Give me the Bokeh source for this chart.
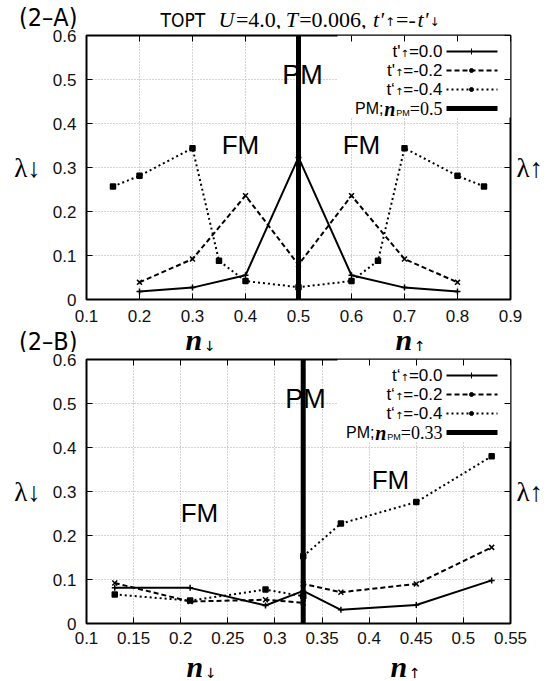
from bokeh.plotting import figure
from bokeh.layouts import column
from bokeh.models import Span, Label, BoxAnnotation, FixedTicker, Range1d, LinearAxis
from bokeh.embed import file_html
from bokeh.resources import INLINE

# ---------------- data ----------------
# panel (2-A): TOPT U=4.0, T=0.006
n_a_t00 = [0.2, 0.3, 0.4, 0.5, 0.6, 0.7, 0.8]
lam_a_t00 = [0.018, 0.027, 0.055, 0.323, 0.055, 0.027, 0.018]
n_a_t02 = [0.2, 0.3, 0.4, 0.5, 0.6, 0.7, 0.8]
lam_a_t02 = [0.039, 0.092, 0.236, 0.079, 0.236, 0.092, 0.039]
n_a_t04 = [0.15, 0.2, 0.3, 0.35, 0.4, 0.5, 0.6, 0.65, 0.7, 0.8, 0.85]
lam_a_t04 = [0.257, 0.281, 0.344, 0.088, 0.042, 0.028, 0.042, 0.088, 0.344, 0.281, 0.257]
n_pm_a = 0.5

# panel (2-B)
n_b_t00 = [0.13, 0.21, 0.29, 0.33, 0.37, 0.45, 0.53]
lam_b_t00 = [0.081, 0.081, 0.041, 0.074, 0.031, 0.042, 0.098]
n_b_t02 = [0.13, 0.21, 0.29, 0.33, 0.33, 0.37, 0.45, 0.53]
lam_b_t02 = [0.092, 0.050, 0.054, 0.047, 0.090, 0.071, 0.090, 0.173]
n_b_t04 = [0.13, 0.21, 0.29, 0.33, 0.33, 0.37, 0.45, 0.53]
lam_b_t04 = [0.066, 0.052, 0.077, 0.062, 0.153, 0.227, 0.276, 0.380]
n_pm_b = 0.33

x_ticks_a = [0.1, 0.2, 0.3, 0.4, 0.5, 0.6, 0.7, 0.8, 0.9]
x_labels_a = ["0.1", "0.2", "0.3", "0.4", "0.5", "0.6", "0.7", "0.8", "0.9"]
x_ticks_b = [0.1, 0.15, 0.2, 0.25, 0.3, 0.35, 0.4, 0.45, 0.5, 0.55]
x_labels_b = ["0.1", "0.15", "0.2", "0.25", "0.3", "0.35", "0.4", "0.45", "0.5", "0.55"]
y_ticks = [0.0, 0.1, 0.2, 0.3, 0.4, 0.5, 0.6]
y_labels = ["0", "0.1", "0.2", "0.3", "0.4", "0.5", "0.6"]

legend_a = ["t'", "t'", "t\u2018"]
legend_b = ["t\u2018", "t\u2018", "t\u2018"]
legend_vals = ["=0.0", "=-0.2", "=-0.4"]
pm_text_a = "=0.5"
pm_text_b = "=0.33"

# ---------------- layout constants ----------------
SANS = "Liberation Sans"
SERIF = "Liberation Serif"
COND = "DejaVu Sans Condensed"
ARROW = "DejaVu Sans"

W = 554
BL, BR = 86, 44
FL, FR = BL, W - BR          # frame left / right (page px)
H_HEAD = 29
H_A, BT_A, BB_A = 300, 6, 30
H_MID = 23
H_B, BT_B, BB_B = 300, 7, 29
H_FOOT = 29
TOP_A = H_HEAD
TOP_MID = TOP_A + H_A
TOP_B = TOP_MID + H_MID
TOP_FOOT = TOP_B + H_B


def blank_axis(ticks, **kw):
    return LinearAxis(ticker=FixedTicker(ticks=ticks),
                      major_label_overrides={t: "" for t in ticks},
                      major_label_text_font_size="1px", major_label_standoff=0,
                      axis_line_color=None, major_tick_in=6, major_tick_out=0,
                      major_tick_line_color="black", minor_tick_in=0, minor_tick_out=0, **kw)


def make_panel(x0, x1, height, bt, bb, page_top, xticks, xlabels, standoff_x):
    p = figure(width=W, height=height, x_range=Range1d(x0, x1), y_range=Range1d(0, 0.6),
               output_backend="svg", toolbar_location=None,
               min_border_left=BL, min_border_right=BR,
               min_border_top=bt, min_border_bottom=bb)
    p.background_fill_color = "white"
    p.border_fill_color = "white"
    p.outline_line_color = "black"
    p.outline_line_width = 2
    xa = p.below[0]
    ya = p.left[0]
    xa.ticker = FixedTicker(ticks=xticks)
    xa.major_label_overrides = {t: s for t, s in zip(xticks, xlabels)}
    ya.ticker = FixedTicker(ticks=y_ticks)
    ya.major_label_overrides = {t: s for t, s in zip(y_ticks, y_labels)}
    for ax in (xa, ya):
        ax.axis_line_color = None
        ax.major_tick_in = 6
        ax.major_tick_out = 0
        ax.minor_tick_in = 0
        ax.minor_tick_out = 0
        ax.major_tick_line_color = "black"
        ax.major_label_text_font = SANS
        ax.major_label_text_font_size = "17px"
        ax.major_label_text_color = "#111111"
    xa.major_label_standoff = standoff_x
    ya.major_label_standoff = 10
    ya.axis_label = "\u03bb\u2193"
    ya.axis_label_orientation = "horizontal"
    ya.axis_label_standoff = 9
    ya.axis_label_text_font = SERIF
    ya.axis_label_text_font_size = "27px"
    ya.axis_label_text_font_style = "normal"
    ya.axis_label_text_color = "black"
    ra = blank_axis(y_ticks, axis_label="\u03bb\u2191",
                    axis_label_orientation="horizontal", axis_label_standoff=6,
                    axis_label_text_font=SERIF, axis_label_text_font_size="27px",
                    axis_label_text_font_style="normal", axis_label_text_color="black")
    p.add_layout(ra, "right")
    p.add_layout(blank_axis(xticks), "above")
    p.grid.grid_line_color = "#a8a8a8"
    p.grid.grid_line_dash = "1 2"
    p.grid.grid_line_width = 1
    p.grid.level = "image"
    T = page_top + bt
    B = page_top + height - bb

    def fx(px):
        return x0 + (px - FL) / (FR - FL) * (x1 - x0)

    def fy(py):
        return (B - py) / (B - T) * 0.6
    return p, fx, fy, T, B


def lab(p, fx, fy, px, py, text, font, size, style="normal", align="left"):
    p.add_layout(Label(x=fx(px), y=fy(py), text=text, text_align=align, text_baseline="middle",
                       text_font=font, text_font_size=f"{size}px", text_font_style=style,
                       text_color="black"))


def run_left(p, fx, fy, left, cy, pieces, scale=1.0):
    x = left
    for text, font, size, style, wem, dy in pieces:
        lab(p, fx, fy, x, cy + dy, text, font, size, style, "left")
        x += size * wem * scale


def run_right(p, fx, fy, right, cy, pieces):
    x = right
    for text, font, size, style, wem, dy in reversed(pieces):
        lab(p, fx, fy, x, cy + dy, text, font, size, style, "right")
        x -= size * wem


def series(p, xs, ys, dash, marker, msize):
    p.line(xs, ys, line_color="black", line_width=2, line_dash=dash)
    p.scatter(xs, ys, marker=marker, size=msize, line_color="black", fill_color="black",
              line_width=1.5)


def legend(p, fx, fy, T, tnames, pm_val):
    p.add_layout(BoxAnnotation(left=fx(337), right=fx(FR), top=0.6, bottom=fy(T + 82),
                               fill_color="white", fill_alpha=1, line_color=None,
                               level="underlay"))
    rows_y = [T + 16, T + 35, T + 54, T + 73]
    styles = [("solid", "cross", 6), ("5 3", "circle", 4), ("2 3", "circle", 4)]
    wems = [1.974, 2.307, 2.307]
    for i in range(3):
        cy = rows_y[i]
        run_right(p, fx, fy, 442, cy, [
            (tnames[i], SANS, 17, "normal", 0.62, 0),
            ("\u2191", ARROW, 10, "normal", 0.84, 2),
            (legend_vals[i], SANS, 17, "normal", wems[i], 0),
        ])
        dash, mk, ms = styles[i]
        p.line([fx(446), fx(497)], [fy(cy), fy(cy)], line_color="black", line_width=2,
               line_dash=dash)
        p.scatter([fx(471)], [fy(cy)], marker=mk, size=ms, line_color="black",
                  fill_color="black")
    cy = rows_y[3]
    run_right(p, fx, fy, 442, cy, [
        ("PM;", SANS, 16, "normal", 1.778, 0),
        ("n", SERIF, 20, "bold italic", 0.6, 0),
        ("PM", SANS, 9, "normal", 1.6, 4),
        (pm_val, SERIF, 18, "normal", 0.564 + 0.5 * (len(pm_val) - 2) + 0.25, 0),
    ])
    p.line([fx(446), fx(497)], [fy(cy), fy(cy)], line_color="black", line_width=5)


def strip(h, top, side_text=None, pad_top=0):
    # text strip; x = page px, y = minus page px (left/right borders align with the panels)
    f = figure(width=W, height=h, x_range=Range1d(FL, FR),
               y_range=Range1d(-(top + h), -(top + pad_top)),
               x_axis_location=None, y_axis_location=None, output_backend="svg",
               toolbar_location=None, min_border_left=BL, min_border_right=BR,
               min_border_top=pad_top, min_border_bottom=0)
    f.outline_line_color = None
    f.background_fill_color = "white"
    f.border_fill_color = "white"
    f.grid.visible = False
    if side_text is not None:
        ax = LinearAxis(ticker=FixedTicker(ticks=[]), axis_label=side_text,
                        axis_label_orientation="horizontal", axis_label_standoff=9,
                        axis_label_text_font=COND, axis_label_text_font_size="25px",
                        axis_label_text_font_style="normal", axis_label_text_color="black",
                        major_label_text_font_size="1px", major_label_standoff=0,
                        axis_line_color=None, major_tick_in=0, major_tick_out=0,
                        minor_tick_in=0, minor_tick_out=0)
        f.add_layout(ax, "left")

    def ident(v):
        return v

    def neg(v):
        return -v
    return f, ident, neg


# ---------------- header strip ----------------
head, hx, hy = strip(H_HEAD, 0, "(2\u2013A)", pad_top=5)
lab(head, hx, hy, 160, 19, "TOPT", COND, 19)
title_pieces = [
    ("U", SERIF, 22, "italic", 0.722, 0), ("=4.0,", SERIF, 22, "normal", 2.064, 0),
    ("T", SERIF, 22, "italic", 0.556, 0), ("=0.006,", SERIF, 22, "normal", 3.064, 0),
    ("t'", SERIF, 22, "italic", 0.49, 0), ("\u2191", ARROW, 12, "normal", 0.84, 3),
    ("=-", SERIF, 22, "normal", 0.897, 0), ("t'", SERIF, 22, "italic", 0.49, 0),
    ("\u2193", ARROW, 12, "normal", 0.84, 3),
]
tw = sum(s * w for _, _, s, _, w, _ in title_pieces)
run_left(head, hx, hy, 218, 18.5, title_pieces, scale=222.0 / tw)

# ---------------- panel A ----------------
pa, fxa, fya, Ta, Ba = make_panel(0.1, 0.9, H_A, BT_A, BB_A, TOP_A, x_ticks_a, x_labels_a, 10)
series(pa, n_a_t00, lam_a_t00, "solid", "cross", 6)
series(pa, n_a_t02, lam_a_t02, "5 3", "x", 7)
series(pa, n_a_t04, lam_a_t04, "2 3", "square", 5)
legend(pa, fxa, fya, Ta, legend_a, pm_text_a)
pa.add_layout(Span(location=n_pm_a, dimension="height", line_color="black", line_width=5))
lab(pa, fxa, fya, 302, Ta + 39, "PM", SANS, 27, "normal", "center")
lab(pa, fxa, fya, 240, 144, "FM", SANS, 26, "normal", "center")
lab(pa, fxa, fya, 361, 144, "FM", SANS, 26, "normal", "center")

# ---------------- middle strip ----------------
mid, mx, my = strip(H_MID, TOP_MID, "(2\u2013B)")
n_dn = [("n", SERIF, 30, "bold italic", 0.62, 0), ("\u2193", ARROW, 14, "normal", 0.84, 6)]
n_up = [("n", SERIF, 30, "bold italic", 0.62, 0), ("\u2191", ARROW, 14, "normal", 0.84, 6)]
run_left(mid, mx, my, 185, 339, n_dn)
run_left(mid, mx, my, 395, 339, n_up)

# ---------------- panel B ----------------
pb, fxb, fyb, Tb, Bb = make_panel(0.1, 0.55, H_B, BT_B, BB_B, TOP_B, x_ticks_b, x_labels_b, 8)
series(pb, n_b_t00, lam_b_t00, "solid", "cross", 6)
series(pb, n_b_t02, lam_b_t02, "5 3", "x", 7)
series(pb, n_b_t04, lam_b_t04, "2 3", "square", 5)
legend(pb, fxb, fyb, Tb, legend_b, pm_text_b)
pb.add_layout(Span(location=n_pm_b, dimension="height", line_color="black", line_width=5))
lab(pb, fxb, fyb, 305, Tb + 39, "PM", SANS, 27, "normal", "center")
lab(pb, fxb, fyb, 199, 512, "FM", SANS, 26, "normal", "center")
lab(pb, fxb, fyb, 390, 479, "FM", SANS, 26, "normal", "center")

# ---------------- footer strip ----------------
foot, ox, oy = strip(H_FOOT, TOP_FOOT)
run_left(foot, ox, oy, 186, 666, n_dn)
run_left(foot, ox, oy, 390, 666, n_up)

layout = column(head, pa, mid, pb, foot, spacing=0)
open("out.html", "w").write(file_html(layout, INLINE))
